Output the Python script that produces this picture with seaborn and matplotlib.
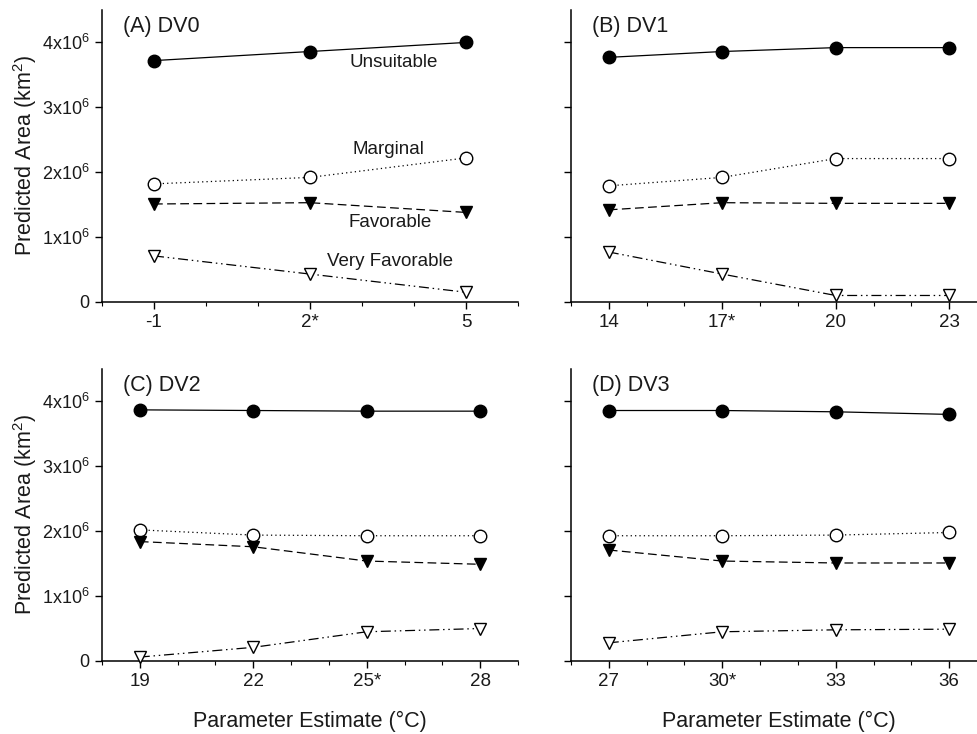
import numpy as np
import pandas as pd
import matplotlib
matplotlib.use('Agg')
import matplotlib.pyplot as plt
import seaborn as sns
from matplotlib.ticker import MultipleLocator, FixedLocator

# parameter values per panel
x_dv0 = [-1, 2, 5]
x_dv1 = [14, 17, 20, 23]
x_dv2 = [19, 22, 25, 28]
x_dv3 = [27, 30, 33, 36]

xlabels_dv0 = ['-1', '2*', '5']
xlabels_dv1 = ['14', '17*', '20', '23']
xlabels_dv2 = ['19', '22', '25*', '28']
xlabels_dv3 = ['27', '30*', '33', '36']

# predicted area (km2)
unsuitable_dv0 = [3.72e6, 3.86e6, 4.00e6]
marginal_dv0 = [1.82e6, 1.92e6, 2.22e6]
favorable_dv0 = [1.51e6, 1.53e6, 1.38e6]
veryfav_dv0 = [0.71e6, 0.43e6, 0.15e6]

unsuitable_dv1 = [3.77e6, 3.86e6, 3.92e6, 3.92e6]
marginal_dv1 = [1.79e6, 1.92e6, 2.21e6, 2.21e6]
favorable_dv1 = [1.42e6, 1.53e6, 1.52e6, 1.52e6]
veryfav_dv1 = [0.77e6, 0.43e6, 0.10e6, 0.10e6]

unsuitable_dv2 = [3.87e6, 3.86e6, 3.85e6, 3.85e6]
marginal_dv2 = [2.02e6, 1.94e6, 1.93e6, 1.93e6]
favorable_dv2 = [1.84e6, 1.76e6, 1.54e6, 1.49e6]
veryfav_dv2 = [0.06e6, 0.21e6, 0.45e6, 0.50e6]

unsuitable_dv3 = [3.86e6, 3.86e6, 3.84e6, 3.80e6]
marginal_dv3 = [1.93e6, 1.93e6, 1.94e6, 1.98e6]
favorable_dv3 = [1.71e6, 1.54e6, 1.51e6, 1.51e6]
veryfav_dv3 = [0.28e6, 0.45e6, 0.48e6, 0.49e6]

sns.set_theme(style='ticks')
plt.rcParams['font.family'] = ['Liberation Sans', 'DejaVu Sans']
plt.rcParams['mathtext.fontset'] = 'custom'
plt.rcParams['mathtext.rm'] = 'Liberation Sans'
plt.rcParams['text.color'] = '#1a1a1a'
plt.rcParams['axes.labelcolor'] = '#1a1a1a'

FS = 13.5

fig = plt.figure(figsize=(9.77, 7.34), dpi=100)
W, H = 0.4258, 0.3978
ax_a = fig.add_axes([0.1044, 0.5886, W, H])
ax_b = fig.add_axes([0.5844, 0.5886, W, H])
ax_c = fig.add_axes([0.1044, 0.0995, W, H])
ax_d = fig.add_axes([0.5844, 0.0995, W, H])

panels = [
    (ax_a, '(A) DV0', x_dv0, xlabels_dv0, (-2, 6),
     unsuitable_dv0, marginal_dv0, favorable_dv0, veryfav_dv0),
    (ax_b, '(B) DV1', x_dv1, xlabels_dv1, (13, 24),
     unsuitable_dv1, marginal_dv1, favorable_dv1, veryfav_dv1),
    (ax_c, '(C) DV2', x_dv2, xlabels_dv2, (18, 29),
     unsuitable_dv2, marginal_dv2, favorable_dv2, veryfav_dv2),
    (ax_d, '(D) DV3', x_dv3, xlabels_dv3, (26, 37),
     unsuitable_dv3, marginal_dv3, favorable_dv3, veryfav_dv3),
]

styles = [
    dict(marker='o', linestyle='-', markerfacecolor='black', markersize=9),
    dict(marker='o', linestyle=(0, (1, 2.5)), markerfacecolor='white', markersize=9),
    dict(marker='v', linestyle=(0, (7, 3.5)), markerfacecolor='black', markersize=9),
    dict(marker='v', linestyle=(0, (8, 3, 1.2, 3, 1.2, 3)), markerfacecolor='white', markersize=9),
]

ytick_vals = [0, 1e6, 2e6, 3e6, 4e6]
ytick_labels = ['0', r'1x10$^{6}$', r'2x10$^{6}$', r'3x10$^{6}$', r'4x10$^{6}$']

for i, (ax, title, xs, xl, xlim, *series) in enumerate(panels):
    for vals, st in zip(series, styles):
        sns.lineplot(x=xs, y=vals, ax=ax, color='black', linewidth=0.9,
                     markeredgecolor='black', markeredgewidth=1.0,
                     clip_on=False, zorder=3, **st)
    ax.set_xlim(*xlim)
    ax.set_ylim(0, 4.5e6)
    ax.xaxis.set_major_locator(FixedLocator(xs))
    ax.set_xticklabels(xl, fontsize=FS)
    ax.xaxis.set_minor_locator(MultipleLocator(1))
    ax.set_yticks(ytick_vals)
    if i % 2 == 0:
        ax.set_yticklabels(ytick_labels, fontsize=FS - 0.5)
        ax.set_ylabel('Predicted Area (km$^{2}$)', fontsize=15.5, labelpad=2)
    else:
        ax.set_yticklabels([])
    if i >= 2:
        ax.set_xlabel('Parameter Estimate (°C)', fontsize=15.5, labelpad=15)
    ax.tick_params(which='major', direction='out', length=5, width=1, pad=4,
                   color='black', labelcolor='#1a1a1a')
    ax.tick_params(which='minor', direction='out', length=3, width=0.8, color='black')
    ax.spines['top'].set_visible(False)
    ax.spines['right'].set_visible(False)
    for s in ('left', 'bottom'):
        ax.spines[s].set_linewidth(1.1)
        ax.spines[s].set_color('black')
    ax.text(0.05, 0.945, title, transform=ax.transAxes, fontsize=15.5,
            ha='left', va='center')

# category labels in panel A
ax_a.text(3.6, 3.69e6, 'Unsuitable', fontsize=FS, ha='center', va='center')
ax_a.text(3.5, 2.35e6, 'Marginal', fontsize=FS, ha='center', va='center')
ax_a.text(3.54, 1.22e6, 'Favorable', fontsize=FS, ha='center', va='center')
ax_a.text(3.54, 0.62e6, 'Very Favorable', fontsize=FS, ha='center', va='center')

fig.savefig('out.png', dpi=100)
